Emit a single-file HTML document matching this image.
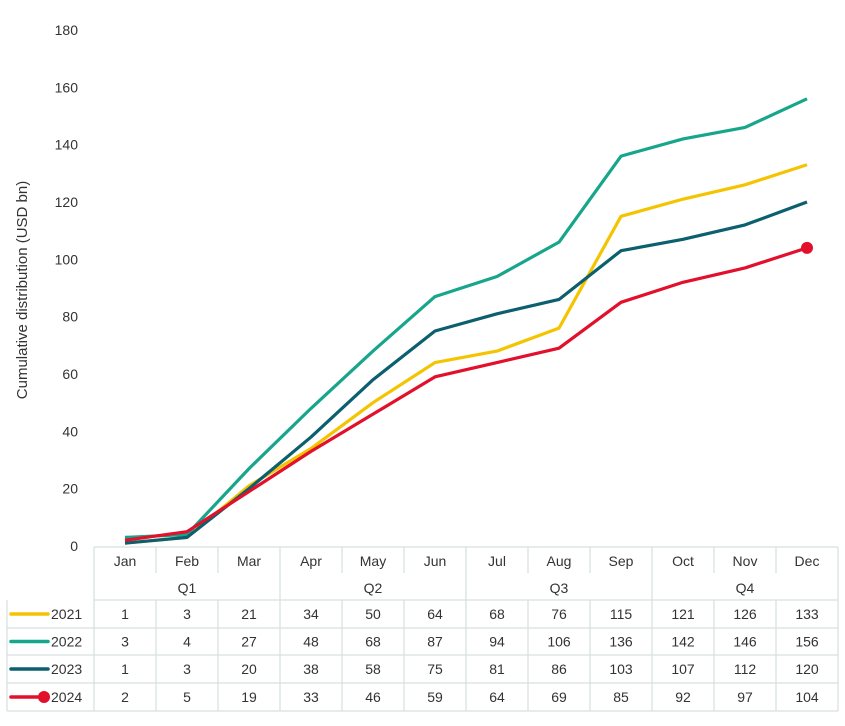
<!DOCTYPE html>
<html><head><meta charset="utf-8"><style>
body{margin:0;background:#fff;font-family:"Liberation Sans",sans-serif;}
svg text{font-family:"Liberation Sans",sans-serif;fill:#333;}
</style></head><body>
<svg id="c" width="845" height="721"></svg>
<script>
const months=["Jan","Feb","Mar","Apr","May","Jun","Jul","Aug","Sep","Oct","Nov","Dec"];
const quarters=["Q1","Q2","Q3","Q4"];
const seriesNames=["2021","2022","2023","2024"];
const s2021=[1,3,21,34,50,64,68,76,115,121,126,133];
const s2022=[3,4,27,48,68,87,94,106,136,142,146,156];
const s2023=[1,3,20,38,58,75,81,86,103,107,112,120];
const s2024=[2,5,19,33,46,59,64,69,85,92,97,104];
const yTicks=[0,20,40,60,80,100,120,140,160,180];
const colors=["#f5c400","#17a58c","#0c5f6f","#e2102b"];
const allSeries=[s2021,s2022,s2023,s2024];
const NS="http://www.w3.org/2000/svg";
const svg=document.getElementById('c');
const x0=94,cw=62;
const xs=i=>x0+cw*(i+0.5);
const ys=v=>546-v*(516/180);
function el(t,a,p){const e=document.createElementNS(NS,t);for(const k in a)e.setAttribute(k,a[k]);(p||svg).appendChild(e);return e;}
// y ticks
yTicks.forEach(v=>{const t=el('text',{x:78,y:ys(v)+5,'text-anchor':'end','font-size':14});t.textContent=v;

});
const yt=el('text',{x:0,y:0,transform:'translate(27,290) rotate(-90)','text-anchor':'middle','font-size':15});
yt.textContent="Cumulative distribution (USD bn)";


// lines
allSeries.forEach((s,k)=>{const p=el('polyline',{points:s.map((v,i)=>xs(i)+','+ys(v)).join(' '),fill:'none',stroke:colors[k],'stroke-width':3.2,'stroke-linejoin':'round'});

});
const m=el('circle',{cx:xs(11),cy:ys(s2024[11]),r:6,fill:colors[3]});


// table
const g=el('g',{});


const gc="#d8e0e0";
const line=(a,b,c,d)=>el('line',{x1:a,y1:b,x2:c,y2:d,stroke:gc,'stroke-width':1.3},g);
const rowY=[547,573,600,628,655,683,711];
line(x0,547,838,547);
line(x0,600,838,600);
for(let r=3;r<7;r++)line(7,rowY[r],838,rowY[r]);
line(7,600,7,711);
[0,3,6,9,12].forEach(i=>line(x0+cw*i,547,x0+cw*i,711));
for(let i=1;i<12;i++){if(i%3)line(x0+cw*i,547,x0+cw*i,573),line(x0+cw*i,600,x0+cw*i,711);}
months.forEach((mn,i)=>{const t=el('text',{x:xs(i),y:566,'text-anchor':'middle','font-size':14},g);t.textContent=mn;

});
quarters.forEach((q,i)=>{const t=el('text',{x:xs(i*3+1),y:593,'text-anchor':'middle','font-size':14},g);t.textContent=q;

});
allSeries.forEach((s,k)=>{const cy=(rowY[k+2]+rowY[k+3])/2;
el('line',{x1:11,y1:cy,x2:48,y2:cy,stroke:colors[k],'stroke-width':3.5,'stroke-linecap':'round'},g);
if(k==3)el('circle',{cx:44,cy:cy,r:6,fill:colors[3]},g);
const lt=el('text',{x:51,y:cy+5,'font-size':14},g);lt.textContent=seriesNames[k];


s.forEach((v,i)=>{const t=el('text',{x:xs(i),y:cy+5,'text-anchor':'middle','font-size':14},g);t.textContent=v;

});});
</script>
</body></html>
